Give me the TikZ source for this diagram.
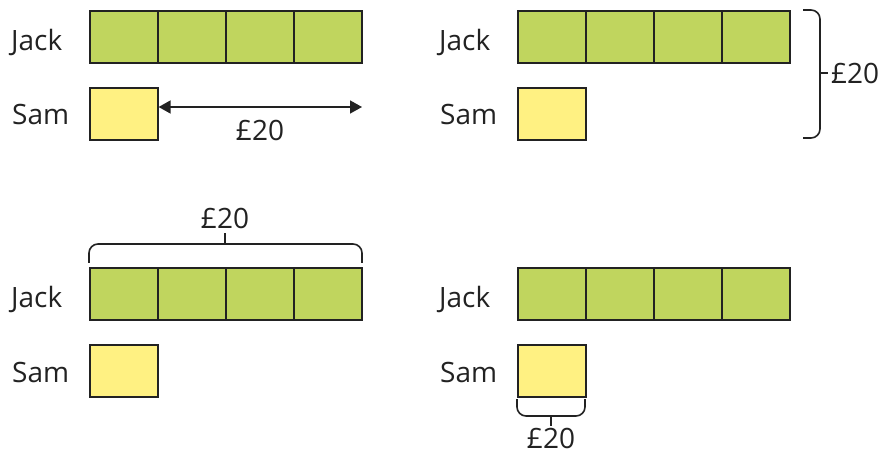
\documentclass[tikz,border=0pt]{standalone}
\usepackage{fontspec}
\setmainfont{Open Sans}
\usetikzlibrary{arrows.meta}
\definecolor{barg}{RGB}{192,213,94}
\definecolor{bary}{RGB}{255,241,130}
\definecolor{edge}{RGB}{34,34,34}
\begin{document}
\begin{tikzpicture}[x=1pt,y=-1pt,
  lbl/.style={font=\fontsize{28}{31}\selectfont, text=edge, inner sep=0pt},
  gcell/.style={draw=edge, line width=1.6pt, fill=barg, minimum width=68pt, minimum height=52pt, inner sep=0pt, anchor=north west},
  ycell/.style={draw=edge, line width=1.6pt, fill=bary, minimum width=68pt, minimum height=52pt, inner sep=0pt, anchor=north west},
  brc/.style={draw=edge, line width=1.6pt, rounded corners=9pt},
  tick/.style={draw=edge, line width=1.6pt},
  arr/.style={draw=edge, line width=1.6pt, {Triangle[length=12pt,width=13pt]}-{Triangle[length=12pt,width=13pt]}}
]
\useasboundingbox (0,0) rectangle (886,454);
\foreach \p/\dx/\dy in {a/0/0, b/428/0, c/0/257, d/428/257} {
  \begin{scope}[shift={(\dx,\dy)}]
    \node[lbl, anchor=base west] (\p jack) at (11,51) {Jack};
    \node[lbl, anchor=base west] (\p sam) at (12,125) {Sam};
    \foreach \i in {0,...,3} {
      \node[gcell] (\p g\i) at (89+68*\i,10) {};
    }
    \node[ycell] (\p y) at (89,87) {};
  \end{scope}
}
% top-left: arrow
\coordinate (aend) at (362,107);
\draw[arr] (ay.east |- aend) -- (aend);
\node[lbl] (alab) at (260,130) {£20};
% top-right: right brace
\coordinate (bt1) at (803,10);
\coordinate (bt2) at (820,10);
\coordinate (bt3) at (820,138);
\coordinate (bt4) at (803,138);
\draw[brc] (bt1) -- (bt2) -- (bt3) -- (bt4);
\coordinate (btk) at (820,73);
\coordinate (btk2) at (828,73);
\draw[tick] (btk) -- (btk2);
\node[lbl, anchor=west] (blab) at (831,73) {£20};
% bottom-left: top brace
\coordinate (ct1) at (89,263);
\coordinate (ct2) at (89,244);
\coordinate (ct3) at (362,244);
\coordinate (ct4) at (362,263);
\draw[brc] (ct1) -- (ct2) -- (ct3) -- (ct4);
\coordinate (ctk) at (225,244);
\coordinate (ctk2) at (225,233);
\draw[tick] (ctk) -- (ctk2);
\node[lbl] (clab) at (225,218) {£20};
% bottom-right: bottom brace
\coordinate (dt1) at (517,399);
\coordinate (dt2) at (517,416);
\coordinate (dt3) at (585,416);
\coordinate (dt4) at (585,399);
\draw[brc] (dt1) -- (dt2) -- (dt3) -- (dt4);
\coordinate (dtk) at (551,416);
\coordinate (dtk2) at (551,426);
\draw[tick] (dtk) -- (dtk2);
\node[lbl] (dlab) at (551,438) {£20};
\end{tikzpicture}
\end{document}
